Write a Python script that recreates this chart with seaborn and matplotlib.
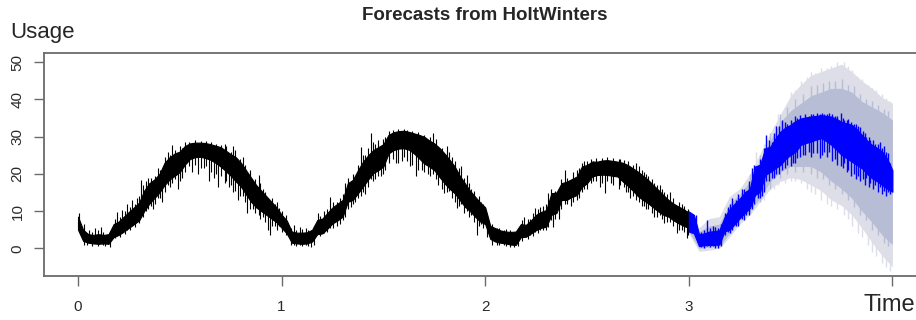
import numpy as np
import pandas as pd
import matplotlib
matplotlib.use("Agg")
import matplotlib.pyplot as plt
import seaborn as sns

# Observed usage: lower / upper edge of the dense series, sampled every 0.025 time units (0 .. 3)
obs_lo = [5.0, 2.0, 1.5, 1.3, 1.2, 1.3, 1.2, 3.0, 3.6, 4.5,
          5.5, 6.5, 7.5, 10.0, 12.0, 13.5, 15.0, 17.0, 18.5, 19.5,
          20.5, 22.5, 24.0, 24.5, 24.6, 24.3, 23.8, 23.0, 22.0, 20.8,
          19.5, 18.0, 16.6, 14.5, 12.5, 11.0, 10.0, 9.0, 8.0, 7.0,
          5.5, 4.0, 1.5, 1.3, 1.2, 1.3, 1.8, 3.8, 4.0, 5.3,
          6.7, 7.5, 8.5, 12.5, 13.0, 14.8, 16.6, 18.5, 20.2, 21.0,
          22.0, 25.5, 26.4, 26.8, 26.9, 26.5, 25.5, 24.2, 22.8, 22.0,
          21.0, 19.2, 17.5, 16.0, 14.8, 13.0, 11.2, 10.0, 8.5, 7.2,
          6.5, 2.5, 1.8, 1.5, 1.3, 1.0, 0.9, 3.0, 3.1, 4.0,
          4.9, 5.5, 5.8, 9.0, 9.5, 13.0, 13.0, 13.8, 14.3, 16.5,
          17.5, 19.3, 19.7, 19.8, 19.7, 19.5, 19.3, 18.0, 16.8, 15.5,
          14.0, 13.0, 12.1, 11.0, 9.9, 9.0, 8.5, 7.5, 6.7, 6.0,
          5.5]
obs_hi = [8.5, 5.0, 3.8, 3.6, 3.8, 3.6, 3.8, 6.5, 7.2, 8.5,
          9.8, 11.0, 12.3, 15.5, 17.5, 18.5, 20.0, 23.0, 24.5, 25.5,
          26.0, 27.5, 28.2, 28.4, 28.4, 28.3, 28.0, 27.6, 27.2, 26.3,
          25.3, 24.5, 23.0, 21.0, 19.0, 17.0, 15.5, 14.0, 12.5, 11.0,
          9.0, 7.5, 4.5, 4.2, 4.2, 4.3, 5.0, 7.6, 8.0, 9.5,
          11.0, 12.0, 13.0, 17.5, 18.4, 21.0, 23.3, 25.0, 26.4, 27.2,
          28.0, 30.5, 31.2, 31.5, 31.6, 31.3, 30.9, 30.5, 30.0, 29.0,
          28.2, 27.0, 25.5, 23.8, 22.0, 19.5, 17.5, 15.5, 13.9, 12.3,
          11.0, 6.0, 5.4, 4.8, 4.5, 4.4, 4.5, 6.5, 6.3, 7.5,
          9.0, 9.8, 10.3, 14.8, 15.0, 17.5, 17.9, 18.6, 19.3, 22.0,
          22.4, 23.3, 23.3, 23.6, 23.7, 23.5, 23.3, 23.0, 22.4, 21.5,
          20.6, 19.5, 18.4, 17.0, 15.7, 14.3, 13.0, 12.0, 11.2, 10.5,
          9.5]

# Short excursions of the observed series: time, low end, high end
obs_spike_t = [0.005, 0.055, 0.085, 0.115, 0.135, 0.19, 0.215, 0.24, 0.265, 0.29,
               0.31, 0.335, 0.37, 0.395, 0.415, 0.44, 0.46, 0.49, 0.51, 0.56,
               0.59, 0.62, 0.645, 0.67, 0.69, 0.72, 0.74, 0.76, 0.785, 0.81,
               0.83, 0.86, 0.89, 0.91, 0.935, 0.945, 0.97, 0.985, 1.06, 1.09,
               1.12, 1.145, 1.18, 1.21, 1.24, 1.27, 1.31, 1.34, 1.36, 1.39,
               1.41, 1.44, 1.46, 1.49, 1.51, 1.56, 1.59, 1.63, 1.66, 1.69,
               1.72, 1.745, 1.77, 1.80, 1.82, 1.86, 1.88, 1.91, 1.93, 1.96,
               1.98, 2.06, 2.09, 2.14, 2.19, 2.22, 2.245, 2.27, 2.31, 2.335,
               2.36, 2.39, 2.42, 2.46, 2.485, 2.53, 2.565, 2.59, 2.62, 2.66,
               2.69, 2.71, 2.74, 2.77, 2.79, 2.83, 2.86, 2.88, 2.91, 2.94,
               2.965, 2.99,
               0.03, 0.045, 0.07, 0.10, 0.125, 0.155,
               0.18, 0.205, 0.23, 0.255, 0.28, 0.30, 0.32, 0.345, 0.36, 0.38,
               0.405, 0.425, 0.45, 0.475, 0.50, 0.525,
               0.545, 0.575, 0.605, 0.63, 0.655, 0.68, 0.70,
               0.725, 0.75, 0.77, 0.795, 0.82, 0.845, 0.87, 0.895, 0.92, 0.955,
               0.975, 1.00, 1.02,
               1.045, 1.07, 1.10, 1.13, 1.16,
               1.19, 1.225, 1.25, 1.285, 1.30, 1.325, 1.35, 1.375, 1.40, 1.425,
               1.45, 1.475, 1.50, 1.525,
               1.545, 1.57, 1.60, 1.615, 1.64, 1.67, 1.70,
               1.73, 1.76, 1.79, 1.81, 1.835, 1.85, 1.87, 1.895, 1.92, 1.945,
               1.97, 1.99, 2.01,
               2.035, 2.07, 2.10, 2.12, 2.16,
               2.18, 2.21, 2.235, 2.26, 2.285, 2.30, 2.325, 2.345, 2.37, 2.40,
               2.43, 2.45, 2.475, 2.50, 2.52,
               2.545, 2.575, 2.60, 2.63, 2.655, 2.68,
               2.70, 2.725, 2.755, 2.78, 2.80, 2.82, 2.845, 2.87, 2.895, 2.92,
               2.95, 2.975, 2.995]
obs_spike_lo = [5.0, 2.0, 2.0, 2.0, 0.6, 4.0, 4.5, 5.0, 6.0, 7.0,
                9.0, 10.0, 10.5, 13.5, 12.5, 17.0, 17.5, 16.0, 19.0, 20.5,
                20.0, 21.5, 18.0, 19.0, 16.6, 17.5, 16.5, 15.0, 13.0, 14.0,
                9.5, 10.5, 9.0, 8.5, 5.0, 3.6, 6.0, 6.0, 1.0, 1.0,
                1.0, 0.3, 4.0, 4.0, 5.5, 6.0, 8.5, 11.2, 12.5, 14.0,
                14.5, 18.5, 18.5, 19.3, 21.0, 22.8, 23.5, 22.0, 19.3, 21.0,
                20.0, 20.0, 17.0, 14.8, 15.5, 10.8, 12.0, 10.0, 9.0, 3.6,
                6.5, 1.0, 1.0, 0.4, 3.0, 3.5, 4.5, 5.0, 5.8, 5.8,
                8.0, 12.0, 11.5, 13.5, 16.0, 18.0, 16.6, 14.8, 17.5, 17.0,
                15.0, 13.5, 13.0, 11.5, 10.5, 8.5, 9.0, 6.7, 7.0, 4.0,
                5.0, 2.7,
                1.0, 0.8, 0.7, 0.5, 0.9, 0.3,
                2.8, 3.0, 3.8, 4.8, 5.8, 6.8, 8.5, 10.5, 11.5, 12.0,
                13.5, 15.0, 16.5, 18.5, 18.0, 20.5,
                22.0, 22.5, 21.5, 22.0, 20.5, 20.0, 19.5,
                18.0, 17.0, 15.5, 14.0, 12.5, 10.5, 9.5, 8.0, 7.0, 6.0,
                5.0, 4.5, 3.5,
                0.8, 0.6, 0.5, 0.7, 1.0,
                3.2, 4.3, 5.5, 6.5, 7.5, 10.5, 12.0, 13.5, 15.0, 16.5,
                18.0, 19.5, 20.0, 23.0,
                24.0, 23.0, 24.5, 23.5, 22.5, 21.0, 20.5,
                19.5, 18.5, 16.0, 15.0, 13.5, 12.5, 11.5, 9.5, 8.5, 7.0,
                6.0, 5.5, 3.0,
                1.0, 0.8, 0.6, 0.3, 0.5,
                2.0, 2.5, 3.3, 4.0, 4.8, 5.0, 7.5, 8.0, 10.5, 12.0,
                12.5, 13.0, 15.0, 16.0, 17.5,
                18.0, 17.5, 18.0, 17.0, 16.0, 16.5,
                15.0, 14.0, 12.5, 11.5, 10.5, 9.5, 8.5, 8.0, 7.0, 6.0,
                5.0, 4.5, 3.5]
obs_spike_hi = [9.5, 5.0, 5.5, 5.8, 3.0, 9.8, 10.2, 11.8, 13.0, 13.5,
                18.4, 18.0, 15.0, 21.5, 17.0, 26.0, 27.8, 22.0, 27.0, 26.0,
                26.0, 26.0, 25.0, 25.0, 24.0, 28.0, 22.0, 27.5, 22.0, 24.5,
                18.0, 18.0, 19.7, 16.0, 12.0, 10.0, 12.0, 10.8, 6.3, 5.8,
                5.5, 4.0, 9.4, 9.9, 13.9, 12.5, 17.5, 17.0, 19.5, 27.3,
                25.0, 30.9, 28.0, 27.0, 30.0, 30.0, 30.0, 30.0, 28.0, 29.0,
                28.0, 31.0, 26.0, 24.0, 26.0, 20.0, 22.0, 19.7, 16.0, 12.0,
                12.5, 5.5, 5.0, 4.0, 8.5, 8.0, 10.8, 11.0, 14.8, 13.0,
                16.0, 21.0, 18.0, 21.5, 23.5, 23.5, 22.0, 22.0, 23.5, 24.0,
                22.0, 21.5, 22.8, 21.0, 20.0, 17.5, 17.0, 15.0, 15.0, 11.5,
                12.0, 10.0,
                6.5, 4.2, 4.5, 4.8, 4.3, 4.5,
                8.0, 8.5, 10.0, 11.2, 11.8, 14.0, 17.0, 19.0, 18.8, 19.5,
                21.0, 24.5, 25.0, 26.5, 27.5, 28.5,
                28.7, 29.0, 28.9, 28.8, 28.5, 28.0, 27.8,
                27.5, 26.0, 26.5, 24.0, 22.5, 21.0, 18.5, 17.5, 15.0, 13.5,
                12.5, 10.0, 9.0,
                5.5, 5.0, 5.2, 5.0, 6.0,
                8.8, 10.5, 12.5, 13.5, 14.5, 19.0, 20.0, 22.5, 25.0, 27.0,
                28.5, 29.0, 29.5, 31.5,
                31.8, 32.0, 32.0, 31.8, 31.6, 31.2, 30.5,
                30.0, 29.5, 27.0, 27.5, 24.5, 23.5, 21.5, 19.0, 17.5, 15.5,
                14.0, 12.0, 9.0,
                6.5, 5.5, 5.2, 5.0, 5.0,
                7.5, 7.8, 9.5, 10.5, 11.5, 12.0, 16.0, 15.5, 18.5, 19.0,
                20.5, 21.0, 23.0, 23.5, 24.0,
                24.2, 24.3, 24.5, 24.3, 24.0, 23.8,
                23.5, 22.5, 22.0, 20.5, 19.5, 18.5, 17.0, 16.0, 14.5, 13.5,
                12.5, 11.5, 10.5]

# Point forecast edges, sampled every 0.025 time units (3 .. 4)
fc_lo = [4.5, 4.0, 0.6, 0.8, 0.9, 0.9, 1.0, 4.5, 5.0, 6.5,
         8.1, 9.5, 10.8, 14.3, 15.2, 19.7, 20.5, 21.5, 22.4, 24.0,
         25.1, 26.0, 27.8, 28.3, 28.7, 29.2, 29.6, 28.8, 27.8, 26.5,
         25.1, 24.2, 23.3, 22.4, 21.5, 20.0, 18.8, 18.0, 17.0, 16.0,
         15.2]
fc_hi = [9.9, 9.0, 3.8, 4.0, 4.5, 4.6, 4.9, 8.3, 10.5, 12.0,
         13.4, 15.0, 16.1, 22.0, 22.4, 26.9, 27.3, 29.5, 31.4, 32.5,
         33.2, 34.2, 34.9, 35.2, 35.4, 35.6, 35.8, 35.6, 35.4, 34.8,
         34.0, 33.6, 33.2, 32.0, 30.5, 29.0, 27.8, 27.0, 26.0, 24.0,
         21.0]
fc_spike_t = [3.06, 3.09, 3.12, 3.145, 3.19, 3.21, 3.23, 3.26, 3.28, 3.31,
              3.34, 3.36, 3.38, 3.41, 3.43, 3.46, 3.48, 3.51, 3.53, 3.56,
              3.59, 3.61, 3.645, 3.665, 3.69, 3.72, 3.745, 3.76, 3.78, 3.81,
              3.83, 3.855, 3.87, 3.89, 3.915, 3.94, 3.96, 3.98,
              3.035, 3.075, 3.105, 3.13, 3.16, 3.18, 3.20, 3.24, 3.27, 3.295,
              3.32, 3.35, 3.37, 3.395, 3.42, 3.445, 3.47, 3.50, 3.52, 3.545,
              3.57, 3.60, 3.63, 3.655, 3.68, 3.705, 3.73, 3.755, 3.775, 3.795,
              3.82, 3.84, 3.865, 3.885, 3.905, 3.93, 3.95, 3.97, 3.99]
fc_spike_lo = [0.3, 0.5, 0.5, 0.0, 4.5, 5.0, 6.0, 8.0, 9.0, 10.5,
               13.4, 14.0, 18.0, 19.0, 20.0, 21.0, 22.5, 23.0, 24.2, 25.1,
               26.0, 25.5, 24.2, 26.0, 26.0, 24.0, 22.0, 23.0, 21.0, 20.0,
               19.5, 18.5, 19.0, 17.5, 17.0, 16.5, 15.5, 15.0,
               3.0, 0.2, 0.3, 0.2, 0.5, 3.5, 4.0, 6.0, 7.5, 9.0,
               12.0, 13.5, 15.0, 18.0, 19.0, 20.0, 21.5, 22.0, 23.0, 24.5,
               25.0, 24.5, 25.5, 25.0, 24.5, 23.5, 22.5, 21.5, 20.5, 19.5,
               18.5, 18.0, 17.0, 16.5, 16.0, 15.0, 14.5, 14.0, 14.5]
fc_spike_hi = [4.5, 7.6, 6.0, 5.5, 11.0, 13.4, 13.0, 16.0, 15.5, 21.5,
               22.5, 23.0, 30.5, 28.5, 33.0, 34.5, 33.5, 34.0, 35.0, 35.0,
               35.5, 36.0, 36.0, 36.0, 36.3, 35.5, 36.3, 34.5, 34.8, 33.5,
               33.0, 31.5, 30.0, 29.0, 28.0, 28.5, 27.5, 25.5,
               9.0, 5.0, 5.5, 5.8, 6.5, 9.5, 12.0, 14.5, 16.0, 18.0,
               22.5, 24.0, 27.0, 29.0, 31.0, 33.0, 34.0, 34.5, 35.5, 35.8,
               36.0, 36.2, 36.4, 36.5, 36.2, 36.0, 35.5, 35.0, 34.5, 34.0,
               33.5, 32.5, 31.0, 30.0, 29.0, 28.0, 27.0, 26.0, 23.0]

# Prediction intervals, sampled every 0.05 time units (3 .. 4)
lo95 = [4.0, -0.8, -0.5, 0.0, 3.0, 6.5, 9.0, 12.5, 16.0, 18.0,
        19.0, 18.5, 17.0, 15.5, 13.0, 11.5, 9.0, 5.5, 1.5, -2.0, -5.0]
lo80 = [4.5, 0.0, 0.3, 0.5, 4.0, 7.5, 10.0, 13.5, 18.0, 20.5,
        22.0, 22.0, 22.0, 20.5, 18.0, 16.0, 13.5, 10.0, 7.0, 3.5, 1.0]
hi80 = [9.9, 4.5, 6.0, 6.5, 12.0, 14.5, 18.0, 23.5, 29.0, 34.0,
        37.0, 39.0, 41.0, 42.0, 43.0, 43.0, 42.0, 39.5, 38.0, 36.5, 34.5]
hi95 = [10.5, 5.5, 8.0, 8.5, 14.0, 16.0, 20.0, 25.5, 31.0, 36.0,
        41.0, 44.0, 46.5, 47.5, 48.5, 49.5, 47.5, 45.0, 43.0, 40.5, 39.0]
# Interval excursions: time, low end, high end
pi95_spike_t = [3.33, 3.37, 3.42, 3.44, 3.47, 3.50, 3.52, 3.55, 3.58, 3.60,
                3.62, 3.65, 3.68, 3.70, 3.73, 3.76, 3.78, 3.80, 3.83, 3.85,
                3.88, 3.90, 3.92, 3.95, 3.97, 3.99]
pi95_spike_lo = [11.0, 13.0, 16.0, 17.0, 17.5, 18.0, 18.0, 17.5, 16.0, 15.0,
                 14.5, 13.0, 12.0, 11.5, 10.5, 9.0, 8.0, 6.0, 4.0, 3.0,
                 1.0, -1.0, -2.0, -4.0, -5.0, -6.0]
pi95_spike_hi = [26.0, 28.0, 33.0, 36.0, 38.0, 42.0, 42.5, 45.0, 46.0, 47.5,
                 47.0, 48.5, 48.5, 49.0, 50.0, 50.0, 49.0, 48.0, 46.0, 45.5,
                 44.0, 43.0, 42.5, 41.5, 40.5, 39.5]
pi80_spike_t = [3.30, 3.35, 3.40, 3.45, 3.48, 3.52, 3.56, 3.60, 3.63, 3.66,
                3.69, 3.72, 3.75, 3.78, 3.81, 3.84, 3.87, 3.90, 3.93, 3.96,
                3.98]
pi80_spike_lo = [9.5, 12.5, 16.0, 19.0, 20.0, 20.5, 20.5, 20.0, 19.0, 18.5,
                 17.0, 16.0, 14.5, 13.0, 11.0, 9.0, 7.5, 5.0, 3.5, 1.5,
                 0.5]
pi80_spike_hi = [20.0, 25.0, 31.0, 36.0, 38.0, 40.0, 41.5, 43.5, 44.0, 44.5,
                 45.0, 45.0, 45.5, 44.0, 43.5, 41.5, 40.0, 39.5, 38.5, 37.5,
                 37.0]

x_ticks = [0, 1, 2, 3, 4]
x_tick_labels = ["0", "1", "2", "3", ""]
y_ticks = [0, 10, 20, 30, 40, 50]

C_OBS = "black"
C_FC = "#0000ff"
C_80 = "#b8bdd6"
C_95 = "#dddee7"
C_AXIS = "#6b6b6b"

sns.set_style("white")
plt.rcParams["font.family"] = ["Liberation Sans", "DejaVu Sans"]

obs_t = np.linspace(0, 3, len(obs_lo))
fc_t = np.linspace(3, 4, len(fc_lo))
pi_t = np.linspace(3, 4, len(lo95))


def band_frame(t, lo, hi):
    return pd.DataFrame({"t": np.concatenate([t, t]),
                         "v": np.concatenate([lo, hi])})


def draw_band(ax, t, lo, hi, color, z, edge=0.8):
    sns.lineplot(data=band_frame(t, lo, hi), x="t", y="v", ax=ax,
                 estimator="mean", errorbar=("pi", 100), color=color,
                 linewidth=0, legend=False,
                 err_kws={"alpha": 1, "linewidth": edge, "edgecolor": color,
                          "zorder": z})


fig = plt.figure(figsize=(9.16, 3.2), dpi=100)
ax = fig.add_axes([44 / 916, 44 / 320, 881 / 916, 223 / 320])

# prediction intervals (95 % outer, 80 % inner)
draw_band(ax, pi_t, lo95, hi95, C_95, 1.0, edge=0)
ax.vlines(pi95_spike_t, pi95_spike_lo, pi95_spike_hi, colors=C_95,
          linewidth=1.0, zorder=1.1)
draw_band(ax, pi_t, lo80, hi80, C_80, 1.2, edge=0)
ax.vlines(pi80_spike_t, pi80_spike_lo, pi80_spike_hi, colors=C_80,
          linewidth=1.0, zorder=1.3)

# observed series
draw_band(ax, obs_t, obs_lo, obs_hi, C_OBS, 2.0)
ax.vlines(obs_spike_t, obs_spike_lo, obs_spike_hi, colors=C_OBS,
          linewidth=0.8, zorder=2.1)

# point forecast
draw_band(ax, fc_t, fc_lo, fc_hi, C_FC, 3.0)
ax.vlines(fc_spike_t, fc_spike_lo, fc_spike_hi, colors=C_FC,
          linewidth=1.0, zorder=3.1)

ax.set_xlim(-0.167, 4.160)
ax.set_ylim(-7.45, 52.5)
ax.set_xlabel("")
ax.set_ylabel("")
ax.set_xticks(x_ticks)
ax.set_xticklabels(x_tick_labels)
ax.set_yticks(y_ticks)
ax.set_yticklabels([str(v) for v in y_ticks], rotation=90, va="center")

for side in ["left", "bottom", "top", "right"]:
    ax.spines[side].set_color(C_AXIS)
    ax.spines[side].set_linewidth(1.3)
ax.tick_params(axis="both", direction="out", length=7, width=1.0,
               color=C_AXIS, labelsize=11, labelcolor="#2b2b2b",
               bottom=True, left=True)
ax.tick_params(axis="x", pad=10.5)
ax.tick_params(axis="y", pad=7)

fig.text(484.5 / 916, 1 - 16 / 320, "Forecasts from HoltWinters",
         ha="center", va="center", fontsize=13.5, fontweight="bold")
fig.text(10 / 916, 1 - 38 / 320, "Usage", ha="left", va="baseline",
         fontsize=16)
fig.text(863 / 916, 1 - 311 / 320, "Time", ha="left", va="baseline",
         fontsize=17)

fig.savefig("out.png", dpi=100)
